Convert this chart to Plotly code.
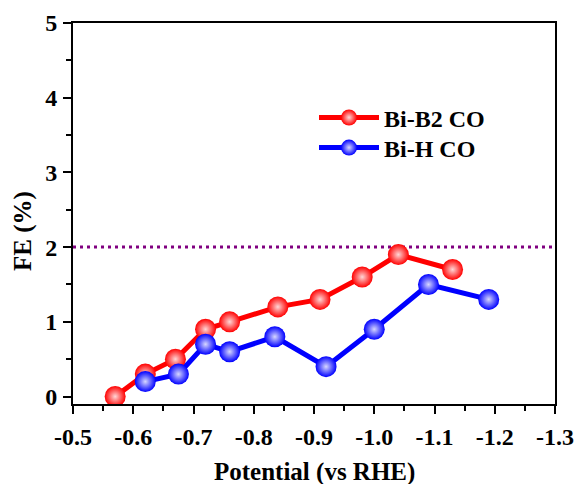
import plotly.graph_objects as go

# Data
b2_x = [-0.57, -0.62, -0.67, -0.72, -0.76, -0.84, -0.91, -0.98, -1.04, -1.13]
b2_y = [0.0, 0.3, 0.5, 0.9, 1.0, 1.2, 1.3, 1.6, 1.9, 1.7]
h_x = [-0.62, -0.675, -0.72, -0.76, -0.835, -0.92, -1.00, -1.09, -1.19]
h_y = [0.2, 0.3, 0.7, 0.6, 0.8, 0.4, 0.9, 1.5, 1.3]
x_ticks = [-0.5, -0.6, -0.7, -0.8, -0.9, -1.0, -1.1, -1.2, -1.3]
x_labels = ["-0.5", "-0.6", "-0.7", "-0.8", "-0.9", "-1.0", "-1.1", "-1.2", "-1.3"]
y_ticks = [0, 1, 2, 3, 4, 5]
y_labels = ["0", "1", "2", "3", "4", "5"]
ref_level = 2

FONT = "Liberation Serif"

fig = go.Figure()
fig.add_trace(go.Scatter(
    x=b2_x, y=b2_y, mode="lines+markers", name="<b>Bi-B2 CO</b>",
    line=dict(color="#ff0000", width=5), legend="legend",
    marker=dict(size=21, color="#ff0000",
                gradient=dict(type="radial", color="#ffd6d6")),
))
fig.add_trace(go.Scatter(
    x=h_x, y=h_y, mode="lines+markers", name="<b>Bi-H CO</b>",
    line=dict(color="#0000ff", width=5), legend="legend2",
    marker=dict(size=21, color="#0000ff",
                gradient=dict(type="radial", color="#d6d6ff")),
))

fig.add_shape(type="line", xref="paper", x0=0, x1=1, yref="y", y0=ref_level, y1=ref_level,
              line=dict(color="#800080", width=3, dash="3px,4px"), layer="below")

axis_common = dict(
    showline=True, linecolor="black", linewidth=2, mirror=True,
    ticks="outside", ticklen=8, tickwidth=2, tickcolor="black",
    showgrid=False, zeroline=False, automargin=False,
    tickfont=dict(family=FONT, size=24, color="black"),
)

fig.update_xaxes(
    range=[-0.5, -1.3], tickvals=x_ticks, ticktext=["<b>%s</b>" % t for t in x_labels],
    minor=dict(ticks="outside", ticklen=5, tickwidth=2, tickcolor="black", dtick=0.05, tick0=-0.5),
    ticklabelstandoff=2,
    **axis_common,
)
fig.update_yaxes(
    range=[-0.1, 5], tickvals=y_ticks, ticktext=["<b>%s</b>" % t for t in y_labels],
    minor=dict(ticks="outside", ticklen=5, tickwidth=2, tickcolor="black", dtick=0.5, tick0=0),
    ticklabelstandoff=1,
    **axis_common,
)

fig.add_annotation(text="<b>Potential (vs RHE)</b>", xref="paper", yref="paper",
                   x=0.5, y=-0.178, xanchor="center", yanchor="middle", showarrow=False,
                   font=dict(family=FONT, size=25, color="black"))
fig.add_annotation(text="<b>FE (%)</b>", xref="paper", yref="paper", textangle=-90,
                   x=-0.104, y=0.454, xanchor="center", yanchor="middle", showarrow=False,
                   font=dict(family=FONT, size=25, color="black"))

leg_common = dict(xanchor="left", yanchor="middle",
                  font=dict(family=FONT, size=24, color="black"),
                  itemwidth=60, bgcolor="rgba(0,0,0,0)")
fig.update_layout(
    width=578, height=484,
    margin=dict(l=73, r=23, t=23, b=80),
    plot_bgcolor="white", paper_bgcolor="white",
    font=dict(family=FONT, color="black"),
    showlegend=True,
    legend=dict(x=0.5, y=0.751, **leg_common),
    legend2=dict(x=0.5, y=0.672, **leg_common),
)
fig.write_html("out.html")
